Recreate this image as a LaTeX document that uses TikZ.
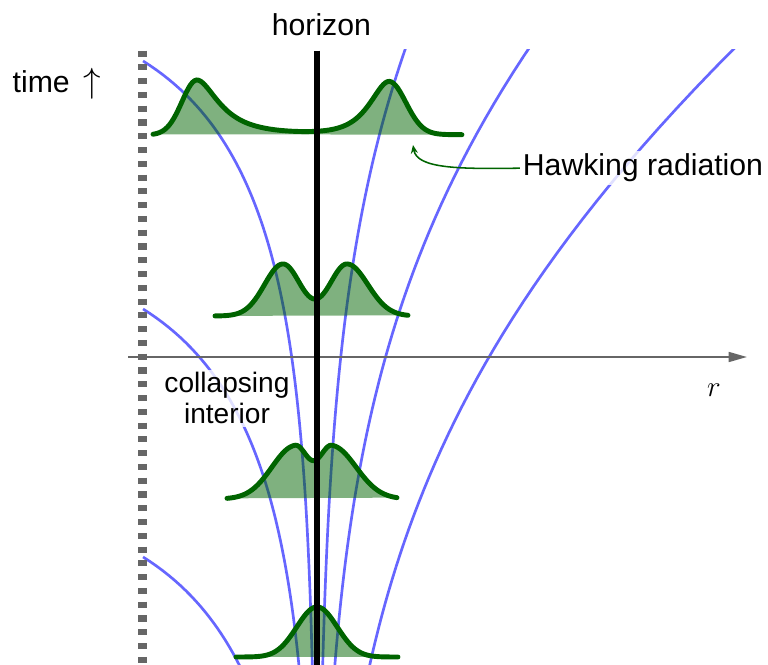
\documentclass[tikz,border=0pt]{standalone}
\usepackage{fontspec}
\setmainfont{Liberation Sans}
\usetikzlibrary{arrows.meta}
\definecolor{darkgreen}{RGB}{0,100,0}

\begin{document}
\begin{tikzpicture}[
    ray/.style={blue!60, line width=1.9pt},
    packfill/.style={fill=darkgreen, fill opacity=0.5},
    packline/.style={darkgreen, line width=3.5pt, line cap=round},
    mylabel/.style={font=\fontsize{21.5}{25}\selectfont, inner sep=2pt},
    boxed/.style={fill=white, fill opacity=0.8, text opacity=1},
    declare function={
      lb(\x,\xo,\hh,\so,\si,\gr) = \hh*exp(-0.5*((\x-\xo)/(\so+(\x>\xo)*(\si-\so+\gr*(\x-\xo))))^2);
      rb(\x,\xo,\hh,\so,\si,\gr) = \hh*exp(-0.5*((\x-\xo)/(\so+(\x<\xo)*(\si-\so+\gr*(\xo-\x))))^2);
      pkone(\x) = 5.55 + lb(\x,-3,1.375,.375,.4,.25) + rb(\x,1.8,1.325,.42,.375,.18);
      pktwo(\x) = 1.025 + lb(\x,-.85,1.3,.46,.42,0) + rb(\x,.75,1.3,.52,.42,0);
      pkthree(\x) = -3.55 + lb(\x,-.55,1.32,.575,.325,0) + rb(\x,.375,1.32,.6,.325,0);
      pkfour(\x) = -7.5 + lb(\x,-.225,.72,.44,.425,0) + rb(\x,.225,.72,.44,.425,0);
    }
]
    \clip (-7.925,-7.675) rectangle (11.275,8.925);

    % Light rays on both sides of the horizon
    \begin{scope}
        \clip (-4.4,-7.8) rectangle (11.3,7.675);
        \foreach \k in {0,1,2} {
            \draw[ray] plot[domain=-2.5:1.47, samples=100]
                ({-exp(\x)}, {2.455-6.2*\k+4.725*\x-0.46*exp(\x)});
            \draw[ray] plot[domain=-2.5:2.5, samples=100]
                ({exp(\x)}, {2.44-6.125*\k+5.25*\x+0.5*exp(\x)});
        }
    \end{scope}

    % Axis
    \draw[black!60, line width=1.4pt, -{Triangle[length=13pt, width=7pt]}] (-4.72,0) -- (10.75,0);

    % Wave packets
    \foreach \pk/\lo/\hi in {pkone/-4.1/3.625, pktwo/-2.55/2.275, pkthree/-2.25/2.0, pkfour/-2.025/2.025} {
        \fill[packfill] plot[domain=\lo:\hi, samples=150] (\x, {\pk(\x)}) -- cycle;
        \draw[packline] plot[domain=\lo:\hi, samples=150] (\x, {\pk(\x)});
    }

    % Horizon and surface of the star
    \draw[line width=4pt] (0,7.66) -- (0,-7.8);
    \draw[black!60, line width=6.4pt, dash pattern=on 4.3pt off 5.5pt] (-4.35,7.66) -- (-4.35,-7.8);

    % Labels
    \node[mylabel, anchor=base west] (timelbl) at (-7.685,6.6)
        {time\hspace{0.45em}{\fontsize{25}{25}\selectfont$\uparrow$}};
    \node[mylabel, anchor=base] (horlbl) at (0.11,8.025) {horizon};
    \node[mylabel, boxed, anchor=base] (hawk) at (8.15,4.525) {Hawking radiation};
    \node[font=\fontsize{20}{22}\selectfont, align=center, boxed, inner sep=2pt] (interior) at (-2.25,-1.03) {collapsing\\interior};
    \node[mylabel, anchor=base] (rlbl) at (9.925,-0.975) {$r$};

    \coordinate (emit) at (2.4,5.3);
    \draw[darkgreen, line width=1.1pt, -{Stealth[length=6pt, width=5pt]}]
        (hawk.west) .. controls (3.6,4.7) and (2.5,4.7) .. (emit);
\end{tikzpicture}
\end{document}
